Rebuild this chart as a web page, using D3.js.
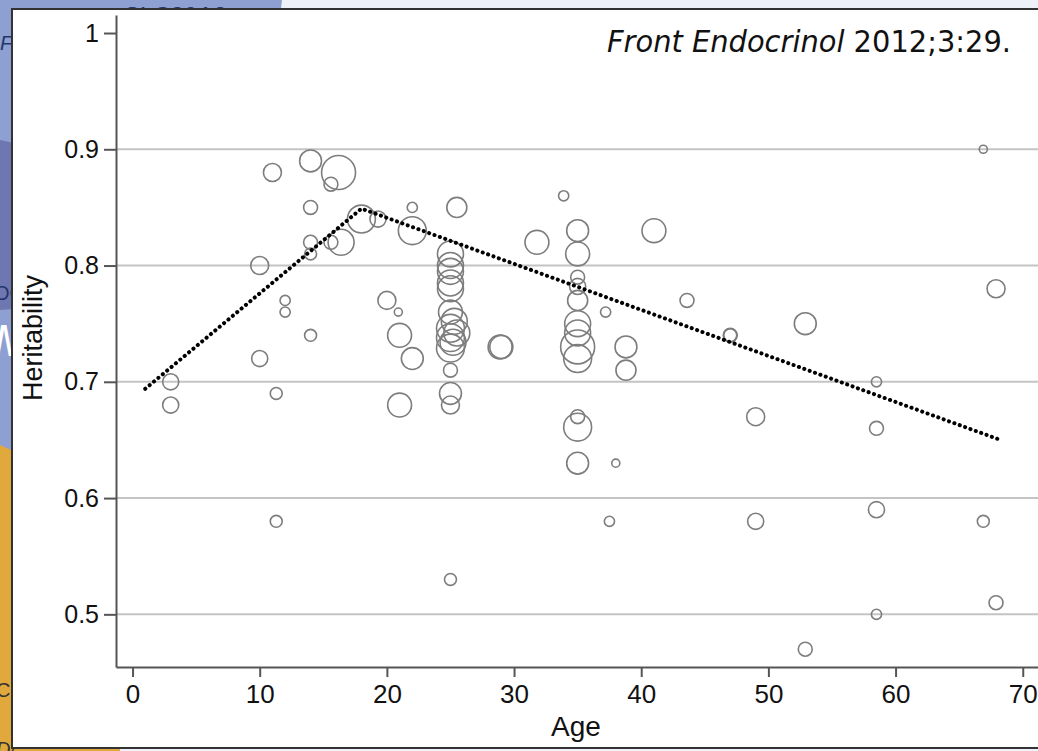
<!DOCTYPE html>
<html>
<head>
<meta charset="utf-8">
<script src="https://cdn.jsdelivr.net/npm/d3@7"></script>
<style>
  html, body { margin: 0; padding: 0; background: #eef2f8; overflow: hidden; }
  svg { display: block; }
</style>
</head>
<body>
<svg id="chart" width="1038" height="751"></svg>
<script>
// ---- Data ----
const ages = [
  3, 3, 10, 10, 11, 11.3, 11.3, 12, 12, 14, 14, 14, 14, 14,
  16.2, 15.6, 15.6, 16.4, 18, 19.3, 22, 22, 20, 20.9, 21, 22, 21, 25.5,
  25, 25, 25, 25, 25, 25, 25.3, 25, 25.5, 25, 25.2, 25, 25, 25, 25, 25,
  28.9, 29, 31.8, 33.9,
  35, 35, 35, 35, 35, 35, 35, 35, 35, 35, 35, 35,
  37.2, 38, 37.5, 38.8, 38.8, 41, 43.6, 47, 47, 49, 49, 52.9, 52.9,
  58.5, 58.5, 58.5, 58.5, 66.9, 66.9, 67.9, 67.9
];
const heritability = [
  0.70, 0.68, 0.80, 0.72, 0.88, 0.69, 0.58, 0.77, 0.76, 0.89, 0.85, 0.82, 0.81, 0.74,
  0.88, 0.87, 0.82, 0.82, 0.84, 0.84, 0.85, 0.83, 0.77, 0.76, 0.74, 0.72, 0.68, 0.85,
  0.81, 0.80, 0.795, 0.785, 0.78, 0.76, 0.752, 0.746, 0.742, 0.738, 0.734, 0.729, 0.71, 0.69, 0.68, 0.53,
  0.73, 0.73, 0.82, 0.86,
  0.83, 0.81, 0.79, 0.782, 0.77, 0.75, 0.742, 0.73, 0.72, 0.67, 0.661, 0.63,
  0.76, 0.63, 0.58, 0.73, 0.71, 0.83, 0.77, 0.74, 0.74, 0.67, 0.58, 0.75, 0.47,
  0.70, 0.66, 0.59, 0.50, 0.90, 0.58, 0.78, 0.51
];
// relative study size (circle area)
const studySize = [
  20, 20, 25, 20, 25, 11, 11, 8, 8, 37, 15, 15, 11, 11,
  89, 15, 15, 52, 60, 20, 8, 60, 25, 5, 44, 37, 44, 31,
  52, 52, 52, 52, 52, 44, 52, 60, 52, 60, 52, 60, 15, 37, 25, 11,
  44, 41, 44, 8,
  37, 44, 15, 20, 31, 52, 52, 89, 60, 15, 60, 37,
  8, 5, 8, 37, 31, 44, 15, 15, 13, 25, 20, 37, 15,
  8, 15, 20, 8, 5, 11, 25, 15
];
const trendAge = [1, 18, 68];
const trendH = [0.694, 0.849, 0.651];
const yTicks = [0.5, 0.6, 0.7, 0.8, 0.9, 1];
const xTicks = [0, 10, 20, 30, 40, 50, 60, 70];
const citationItalic = "Front Endocrinol";
const citationRest = " 2012;3:29.";

// ---- Drawing ----
const svg = d3.select("#chart");

// slide background fragments visible around the chart panel
const bg = svg.append("g");
bg.append("rect").attr("x", 0).attr("y", 0).attr("width", 1038).attr("height", 751).attr("fill", "#eef2f8");
bg.append("path").attr("d", "M0,0 L282,0 C270,120 180,300 0,470 Z").attr("fill", "#8e9fd2");
bg.append("path").attr("d", "M0,140 C60,150 120,200 140,300 L0,310 Z").attr("fill", "#6f77b1");
bg.append("path").attr("d", "M0,445 C60,470 100,520 120,751 L0,751 Z").attr("fill", "#e1a93b");
bg.append("text").attr("x", 124).attr("y", 24).attr("font-family", "Liberation Sans, Arial, sans-serif")
  .attr("font-size", 24).attr("fill", "#24356a").text("SLC30A8");
bg.append("text").attr("x", 0).attr("y", 50).attr("font-family", "Liberation Sans, Arial, sans-serif")
  .attr("font-style", "italic").attr("font-size", 20).attr("fill", "#24356a").text("F");
bg.append("text").attr("x", -6).attr("y", 300).attr("font-family", "Liberation Sans, Arial, sans-serif")
  .attr("font-size", 20).attr("fill", "#24356a").text("OC");
bg.append("text").attr("x", -6).attr("y", 356).attr("font-family", "Liberation Sans, Arial, sans-serif")
  .attr("font-style", "italic").attr("font-size", 44).attr("fill", "#ffffff").text("M");
bg.append("text").attr("x", -4).attr("y", 697).attr("font-family", "Liberation Sans, Arial, sans-serif")
  .attr("font-size", 20).attr("fill", "#333").text("CS");
bg.append("text").attr("x", -4).attr("y", 756).attr("font-family", "Liberation Sans, Arial, sans-serif")
  .attr("font-style", "italic").attr("font-size", 20).attr("fill", "#333").text("D/");

// white chart panel
svg.append("rect").attr("x", 12).attr("y", 9).attr("width", 1040).attr("height", 739)
  .attr("fill", "#ffffff").attr("stroke", "#333").attr("stroke-width", 2);

const x = d3.scaleLinear().domain([-1.3, 71.2]).range([116, 1038]);
const y = d3.scaleLinear().domain([0.4547, 1.0155]).range([667, 15]);
const r = d3.scaleSqrt().domain([0, 100]).range([0, 18]);

const font = "Liberation Sans, Arial, Helvetica, sans-serif";

// gridlines
svg.append("g").selectAll("line").data(yTicks.filter(d => d < 1)).join("line")
  .attr("x1", 116).attr("x2", 1038)
  .attr("y1", d => y(d)).attr("y2", d => y(d))
  .attr("stroke", "#c4c4c4").attr("stroke-width", 2);

// y axis
const yAxis = svg.append("g").attr("transform", "translate(116,0)")
  .call(d3.axisLeft(y).tickValues(yTicks).tickSize(12).tickSizeOuter(0).tickPadding(5)
    .tickFormat(d => d === 1 ? "1" : d3.format(".1f")(d)));
yAxis.select(".domain").attr("stroke", "#555").attr("stroke-width", 2);
yAxis.selectAll(".tick line").attr("stroke", "#555").attr("stroke-width", 2);
yAxis.selectAll(".tick text").attr("font-family", font).attr("font-size", 25).attr("fill", "#111");

// x axis
const xAxis = svg.append("g").attr("transform", "translate(0,667)")
  .call(d3.axisBottom(x).tickValues(xTicks).tickSize(10).tickSizeOuter(0).tickPadding(8));
xAxis.select(".domain").attr("stroke", "#555").attr("stroke-width", 2);
xAxis.selectAll(".tick line").attr("stroke", "#555").attr("stroke-width", 2);
xAxis.selectAll(".tick text").attr("font-family", font).attr("font-size", 26).attr("fill", "#111");

// axis titles
svg.append("text").attr("x", 576).attr("y", 736).attr("text-anchor", "middle")
  .attr("font-family", font).attr("font-size", 28).attr("fill", "#111").text("Age");
svg.append("text").attr("transform", "translate(42,338) rotate(-90)").attr("text-anchor", "middle")
  .attr("font-family", font).attr("font-size", 27).attr("fill", "#111").text("Heritability");

// circles
const pts = ages.map((a, i) => ({ a, h: heritability[i], n: studySize[i] }));
svg.append("g").selectAll("circle").data(pts).join("circle")
  .attr("cx", d => x(d.a)).attr("cy", d => y(d.h)).attr("r", d => r(d.n))
  .attr("fill", "none").attr("stroke", "#7d7d7d").attr("stroke-width", 1.6);

// dotted trend line
const trend = trendAge.map((a, i) => [x(a), y(trendH[i])]);
svg.append("path").attr("d", d3.line()(trend))
  .attr("fill", "none").attr("stroke", "#000").attr("stroke-width", 4)
  .attr("stroke-linecap", "round").attr("stroke-dasharray", "0.1 5.6");

// citation
const cite = svg.append("text").attr("x", 607).attr("y", 52)
  .attr("font-family", "DejaVu Sans, sans-serif").attr("font-size", 30).attr("fill", "#111")
  .attr("textLength", 404).attr("lengthAdjust", "spacingAndGlyphs");
cite.append("tspan").attr("font-style", "italic").text(citationItalic);
cite.append("tspan").text(citationRest);
</script>
</body>
</html>
